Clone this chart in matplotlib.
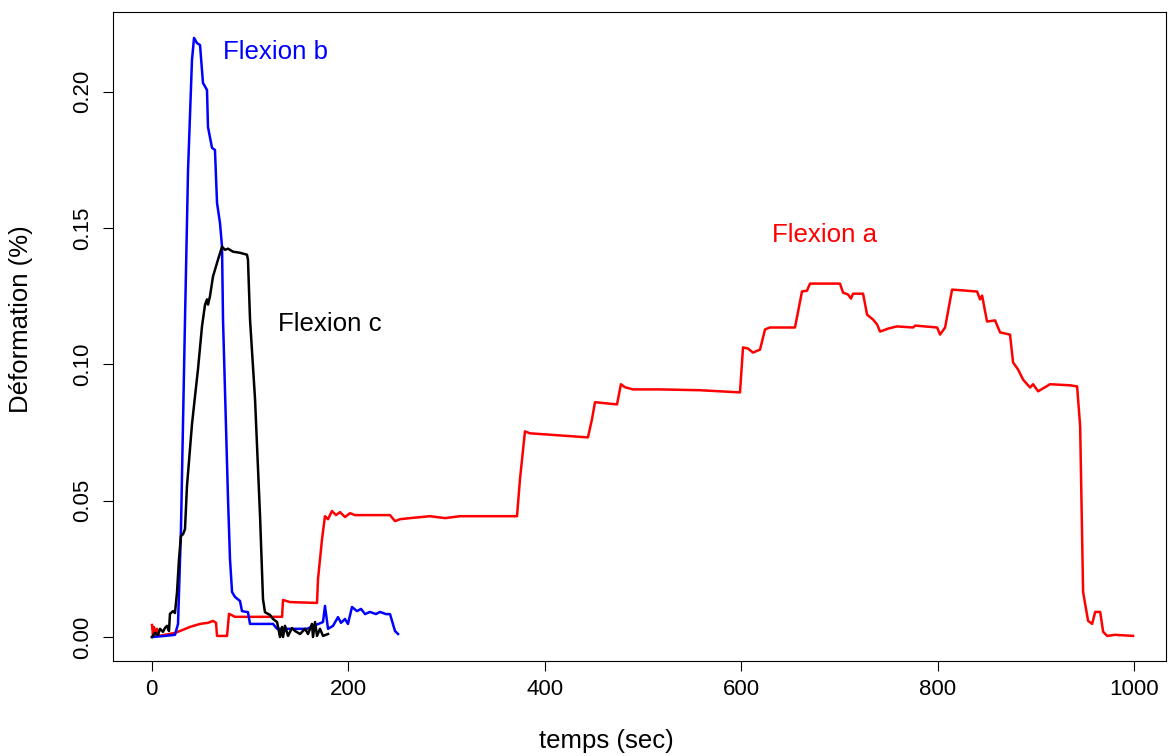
import numpy as np
import matplotlib
matplotlib.use('Agg')
import matplotlib.pyplot as plt

plt.rcParams['font.family'] = ['Liberation Sans', 'DejaVu Sans']

### DATA ###
# Flexion a (red)
t_a = [0.3, 1.3, 2.3, 4.4, 5.4, 7.4, 13.5, 23.7, 28.8, 39.0, 49.2, 57.3, 62.4, 65.5,
       66.5, 76.7, 78.7, 84.8, 132.7, 133.7, 140.8, 168.3, 169.3, 173.4, 176.4,
       179.5, 183.5, 187.6, 191.7, 196.8, 201.9, 207.0, 242.6, 247.7, 252.8, 263.0,
       283.3, 298.6, 313.9, 371.9, 374.9, 380.0, 385.1, 444.1, 448.2, 451.3, 473.7,
       477.7, 481.8, 490.0, 517.4, 558.2, 598.9, 602.0, 607.0, 612.1, 619.3, 624.4,
       629.5, 654.9, 662.0, 667.1, 670.2, 700.7, 703.8, 708.9, 711.9, 714.0, 724.2,
       728.3, 734.4, 738.5, 741.5, 749.7, 758.8, 775.1, 777.2, 799.6, 802.6, 807.7,
       814.8, 840.3, 843.3, 845.4, 850.4, 858.6, 863.7, 873.8, 876.9, 882.0, 887.1,
       894.2, 897.3, 902.4, 914.6, 935.0, 942.1, 945.2, 948.2, 953.3, 957.4, 960.5,
       965.6, 968.6, 972.7, 980.8, 999.1]
d_a = [0.0044, 0.0008, 0.0037, 0.0004, 0.0030, 0.0004, 0.0008, 0.0015, 0.0022, 0.0037,
       0.0048, 0.0052, 0.0059, 0.0052, 0.0004, 0.0004, 0.0085, 0.0074, 0.0074, 0.0136,
       0.0128, 0.0125, 0.0212, 0.0359, 0.0443, 0.0432, 0.0462, 0.0447, 0.0458, 0.0440,
       0.0454, 0.0447, 0.0447, 0.0425, 0.0432, 0.0436, 0.0443, 0.0436, 0.0443, 0.0443,
       0.0578, 0.0754, 0.0747, 0.0732, 0.0798, 0.0861, 0.0853, 0.0927, 0.0916, 0.0908,
       0.0908, 0.0905, 0.0897, 0.1062, 0.1058, 0.1043, 0.1054, 0.1128, 0.1135, 0.1135,
       0.1267, 0.1270, 0.1296, 0.1296, 0.1263, 0.1256, 0.1241, 0.1259, 0.1259, 0.1182,
       0.1164, 0.1146, 0.1120, 0.1131, 0.1139, 0.1135, 0.1142, 0.1135, 0.1109, 0.1135,
       0.1274, 0.1267, 0.1238, 0.1252, 0.1157, 0.1161, 0.1117, 0.1109, 0.1007, 0.0981,
       0.0944, 0.0915, 0.0927, 0.0901, 0.0927, 0.0923, 0.0919, 0.0773, 0.0165, 0.0059,
       0.0048, 0.0092, 0.0092, 0.0019, 0.0004, 0.0008, 0.0004]

# Flexion b (blue)
t_b = [0.3, 13.5, 23.7, 26.8, 29.8, 33.9, 37.0, 41.0, 43.1, 46.1, 49.2, 52.2, 56.3,
       57.3, 61.4, 64.4, 66.5, 69.5, 71.6, 72.6, 77.7, 79.7, 81.8, 84.8, 89.9, 91.9,
       98.0, 100.1, 123.5, 127.6, 158.1, 174.4, 176.4, 179.5, 184.6, 189.7, 192.7,
       196.8, 199.8, 203.9, 209.0, 213.1, 217.2, 222.2, 228.3, 232.4, 238.5, 242.6,
       247.7, 250.8]
d_b = [0.0, 0.0004, 0.0008, 0.0048, 0.0396, 0.1164, 0.1713, 0.2116, 0.2197, 0.2178,
       0.2171, 0.2032, 0.2006, 0.1870, 0.1794, 0.1786, 0.1592, 0.1519, 0.1431, 0.1164,
       0.0505, 0.0286, 0.0165, 0.0147, 0.0132, 0.0095, 0.0091, 0.0048, 0.0048, 0.0030,
       0.0030, 0.0055, 0.0114, 0.0030, 0.0041, 0.0073, 0.0052, 0.0066, 0.0048, 0.0110,
       0.0095, 0.0103, 0.0084, 0.0092, 0.0084, 0.0092, 0.0084, 0.0084, 0.0022, 0.0011]

# Flexion c (black)
t_c = [0.3, 3.4, 6.4, 8.5, 11.5, 13.5, 15.6, 17.6, 18.6, 21.7, 23.7, 25.8, 27.8, 29.8,
       31.9, 33.9, 35.9, 41.0, 44.1, 47.1, 51.2, 54.3, 56.3, 57.3, 59.3, 62.4, 67.5,
       71.6, 74.6, 77.7, 82.8, 89.9, 97.0, 98.0, 100.1, 105.2, 110.3, 113.3, 115.3,
       120.4, 123.5, 127.6, 130.6, 132.7, 133.7, 135.7, 138.8, 142.8, 145.9, 151.0,
       156.1, 159.1, 163.2, 164.2, 166.3, 168.3, 171.3, 174.4, 179.5]
d_c = [0.0, 0.0015, 0.0008, 0.0030, 0.0019, 0.0033, 0.0041, 0.0022, 0.0085, 0.0095,
       0.0088, 0.0165, 0.0286, 0.0370, 0.0377, 0.0396, 0.0553, 0.0780, 0.0883, 0.0981,
       0.1139, 0.1219, 0.1238, 0.1219, 0.1249, 0.1322, 0.1384, 0.1431, 0.1420, 0.1424,
       0.1413, 0.1409, 0.1402, 0.1384, 0.1164, 0.0872, 0.0443, 0.0139, 0.0091, 0.0081,
       0.0066, 0.0055, 0.0, 0.0037, 0.0, 0.0041, 0.0004, 0.0033, 0.0022, 0.0011, 0.0030,
       0.0011, 0.0048, 0.0, 0.0055, 0.0004, 0.0030, 0.0004, 0.0011]

x_ticks = [0, 200, 400, 600, 800, 1000]
y_ticks = [0.00, 0.05, 0.10, 0.15, 0.20]
y_ticklabels = ['0.00', '0.05', '0.10', '0.15', '0.20']

### PLOT ###
W, H = 1168, 756
fig = plt.figure(figsize=(W / 100, H / 100), dpi=100)
ax = fig.add_axes([113 / W, (H - 661) / H, (1166 - 113) / W, (661 - 12) / H])

ax.plot(t_a, d_a, color='#ff0000', lw=1.8)
ax.plot(t_b, d_b, color='#0000ff', lw=1.8)
ax.plot(t_c, d_c, color='black', lw=1.8)

ax.text(72.3, 0.2119, 'Flexion b', color='#0000ff', fontsize=18.6, ha='left', va='baseline')
ax.text(128.6, 0.1124, 'Flexion c', color='black', fontsize=18.6, ha='left', va='baseline')
ax.text(631.5, 0.1450, 'Flexion a', color='#ff0000', fontsize=18.6, ha='left', va='baseline')

ax.set_xlim(-39.4, 1032.6)
ax.set_ylim(-0.0088, 0.2292)

ax.set_xticks(x_ticks)
ax.set_yticks(y_ticks)
ax.set_yticklabels(y_ticklabels, rotation=90, va='center')
ax.tick_params(axis='both', direction='out', length=7.2, width=0.8, labelsize=16, color='black')
ax.tick_params(axis='x', pad=6)
ax.tick_params(axis='y', pad=7)
for s in ax.spines.values():
    s.set_linewidth(0.8)

ax.set_xlabel('temps (sec)', fontsize=18.5)
ax.set_ylabel('Déformation (%)', fontsize=18.5)
ax.xaxis.set_label_coords((606 - 113) / 1053, (661 - 729) / 649)
ax.yaxis.set_label_coords((33 - 113) / 1053, (661 - 319) / 649)

fig.savefig('out.png', dpi=100)
